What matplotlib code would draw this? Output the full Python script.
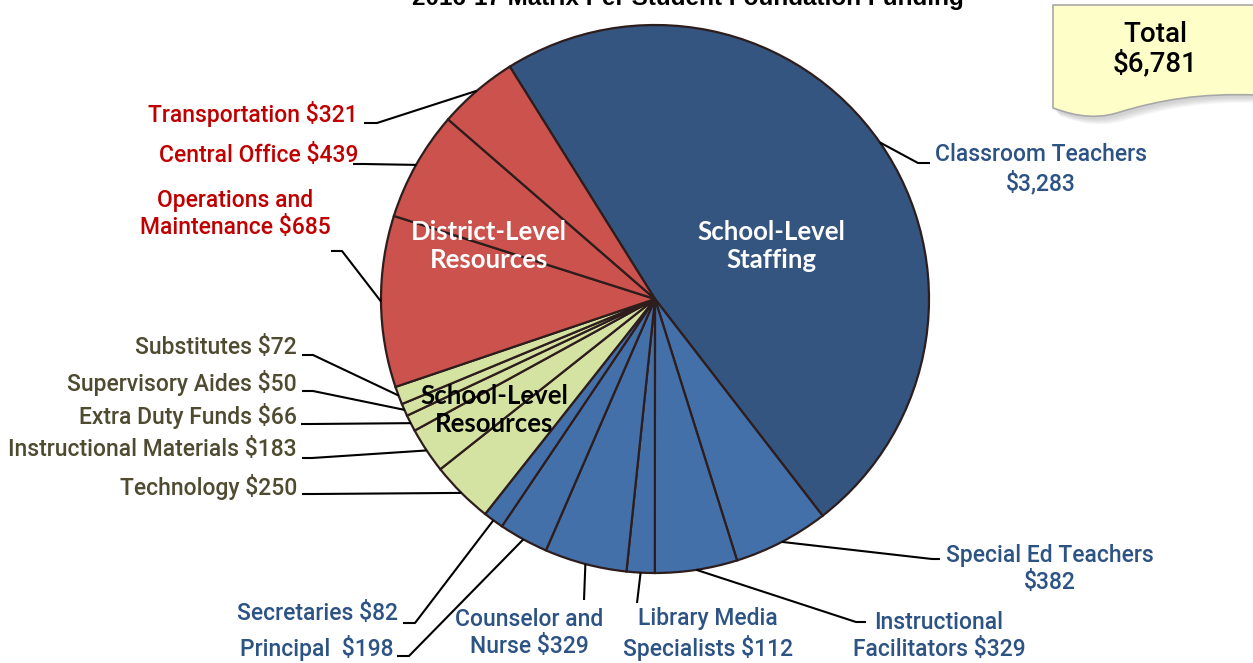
import numpy as np
import matplotlib.pyplot as plt
from matplotlib.patches import PathPatch
from matplotlib.path import Path

# slices in clockwise order, starting with Classroom Teachers
labels = ["Classroom Teachers\n$3,283", "Special Ed Teachers\n$382",
          "Instructional\nFacilitators $329", "Library Media\nSpecialists $112",
          "Counselor and\nNurse $329", "Principal  $198", "Secretaries $82",
          "Technology $250", "Instructional Materials $183", "Extra Duty Funds $66",
          "Supervisory Aides $50", "Substitutes $72",
          "Operations and\nMaintenance $685", "Central Office $439", "Transportation $321"]
values = [3283, 382, 329, 112, 329, 198, 82, 250, 183, 66, 50, 72, 685, 439, 321]
groups = ["staff"] * 7 + ["res"] * 5 + ["dist"] * 3
group_names = {"staff": "School-Level\nStaffing",
               "res": "School-Level\nResources",
               "dist": "District-Level\nResources"}
title = "2016-17 Matrix Per Student Foundation Funding"
total_text = "Total\n$6,781"

W, H = 1253, 663
NARROW = ["Roboto", "DejaVu Sans"]

fig = plt.figure(figsize=(W / 100, H / 100), dpi=100)
ax = fig.add_axes([0, 0, 1, 1])


def Y(y):
    # pixel row -> data y
    return H - y


cx, cy, r = 655, 299, 274
fill = {"staff": "#4470aa", "res": "#d5e3a2", "dist": "#cb524d"}
colors = [fill[g] for g in groups]
colors[0] = "#33557f"
text_col = {"staff": "#2c5384", "res": "#4f4b31", "dist": "#c00000"}

wedges, _ = ax.pie(values, colors=colors, startangle=122, counterclock=False,
                   center=(cx, Y(cy)), radius=r,
                   wedgeprops=dict(edgecolor="#2e1d1d", linewidth=1.6))
ax.set_xlim(0, W)
ax.set_ylim(0, H)
ax.set_aspect("auto")
ax.axis("off")

# label layout: (text x, text y, ha, line end x, line end y, elbow dx)
layout = [
    (1041, 169, "center", 930, 163, -12),
    (1050, 569, "center", 940, 559, -8),
    (939, 636, "center", 866, 622, -10),
    (708, 634, "center", 637, 603, 0),
    (529, 633, "center", 584, 600, 0),
    (393, 648, "right", 397, 656, 12),
    (398, 614, "right", 403, 623, 12),
    (297, 487, "right", 302, 494, 11),
    (297, 450, "right", 302, 458, 10),
    (297, 416, "right", 301, 424, 10),
    (297, 383, "right", 302, 391, 11),
    (297, 347, "right", 302, 355, 11),
    (235, 214, "center", 331, 251, 11),
    (358, 155, "right", 353, 164, 10),
    (358, 114, "right", 364, 123, 13),
]

for w, lab, g, (tx, ty, ha, lx, ly, dx) in zip(wedges, labels, groups, layout):
    mid = np.deg2rad((w.theta1 + w.theta2) / 2)
    ex, ey = cx + r * np.cos(mid), Y(cy) + r * np.sin(mid)
    xs = [ex, lx + dx, lx]
    ys = [ey, Y(ly), Y(ly)]
    ax.plot(xs, ys, color="black", lw=1.5, solid_capstyle="butt", zorder=1)
    ax.text(tx, Y(ty), lab, ha=ha, va="center", fontsize=16.5, color=text_col[g],
            family=NARROW, fontweight="medium", linespacing=1.25, zorder=3)

# group names inside the pie
for g, (gx, gy), c in [("staff", (771, 246), "white"),
                       ("dist", (489, 246), "white"),
                       ("res", (494, 410), "black")]:
    ax.text(gx, Y(gy), group_names[g], ha="center", va="center", fontsize=18.5,
            fontweight="bold", color=c, family=["Lato", "DejaVu Sans"],
            linespacing=1.25, zorder=4)

# "Total" sticky note with wavy bottom
def note_path(ox=0, oy=0):
    verts = [(1053, 5), (1256, 5), (1256, 95), (1200, 93), (1160, 100), (1120, 112),
             (1090, 122), (1065, 112), (1053, 108), (1053, 5)]
    codes = [Path.MOVETO, Path.LINETO, Path.LINETO, Path.CURVE4, Path.CURVE4,
             Path.CURVE4, Path.CURVE4, Path.CURVE4, Path.CURVE4, Path.CLOSEPOLY]
    return Path([(x + ox, Y(y + oy)) for x, y in verts], codes)


for k in range(6):
    ax.add_patch(PathPatch(note_path(2 + k, 3 + k), facecolor="#777777", edgecolor="none",
                           alpha=0.06, zorder=5))
ax.add_patch(PathPatch(note_path(), facecolor="#fefec8", edgecolor="#a8a8a8", lw=1.2,
                       zorder=6))
ax.text(1155, Y(49), total_text, ha="center", va="center", fontsize=20, color="black",
        family=NARROW, fontweight="medium", linespacing=1.1, zorder=7)

# title, cut off by the top edge like the original
fig.text(688 / W, 1 - 5 / H, title, ha="center", va="baseline", fontsize=17.5,
         fontweight="bold", family=["Liberation Sans", "DejaVu Sans"])

fig.savefig("out.png", dpi=100)
